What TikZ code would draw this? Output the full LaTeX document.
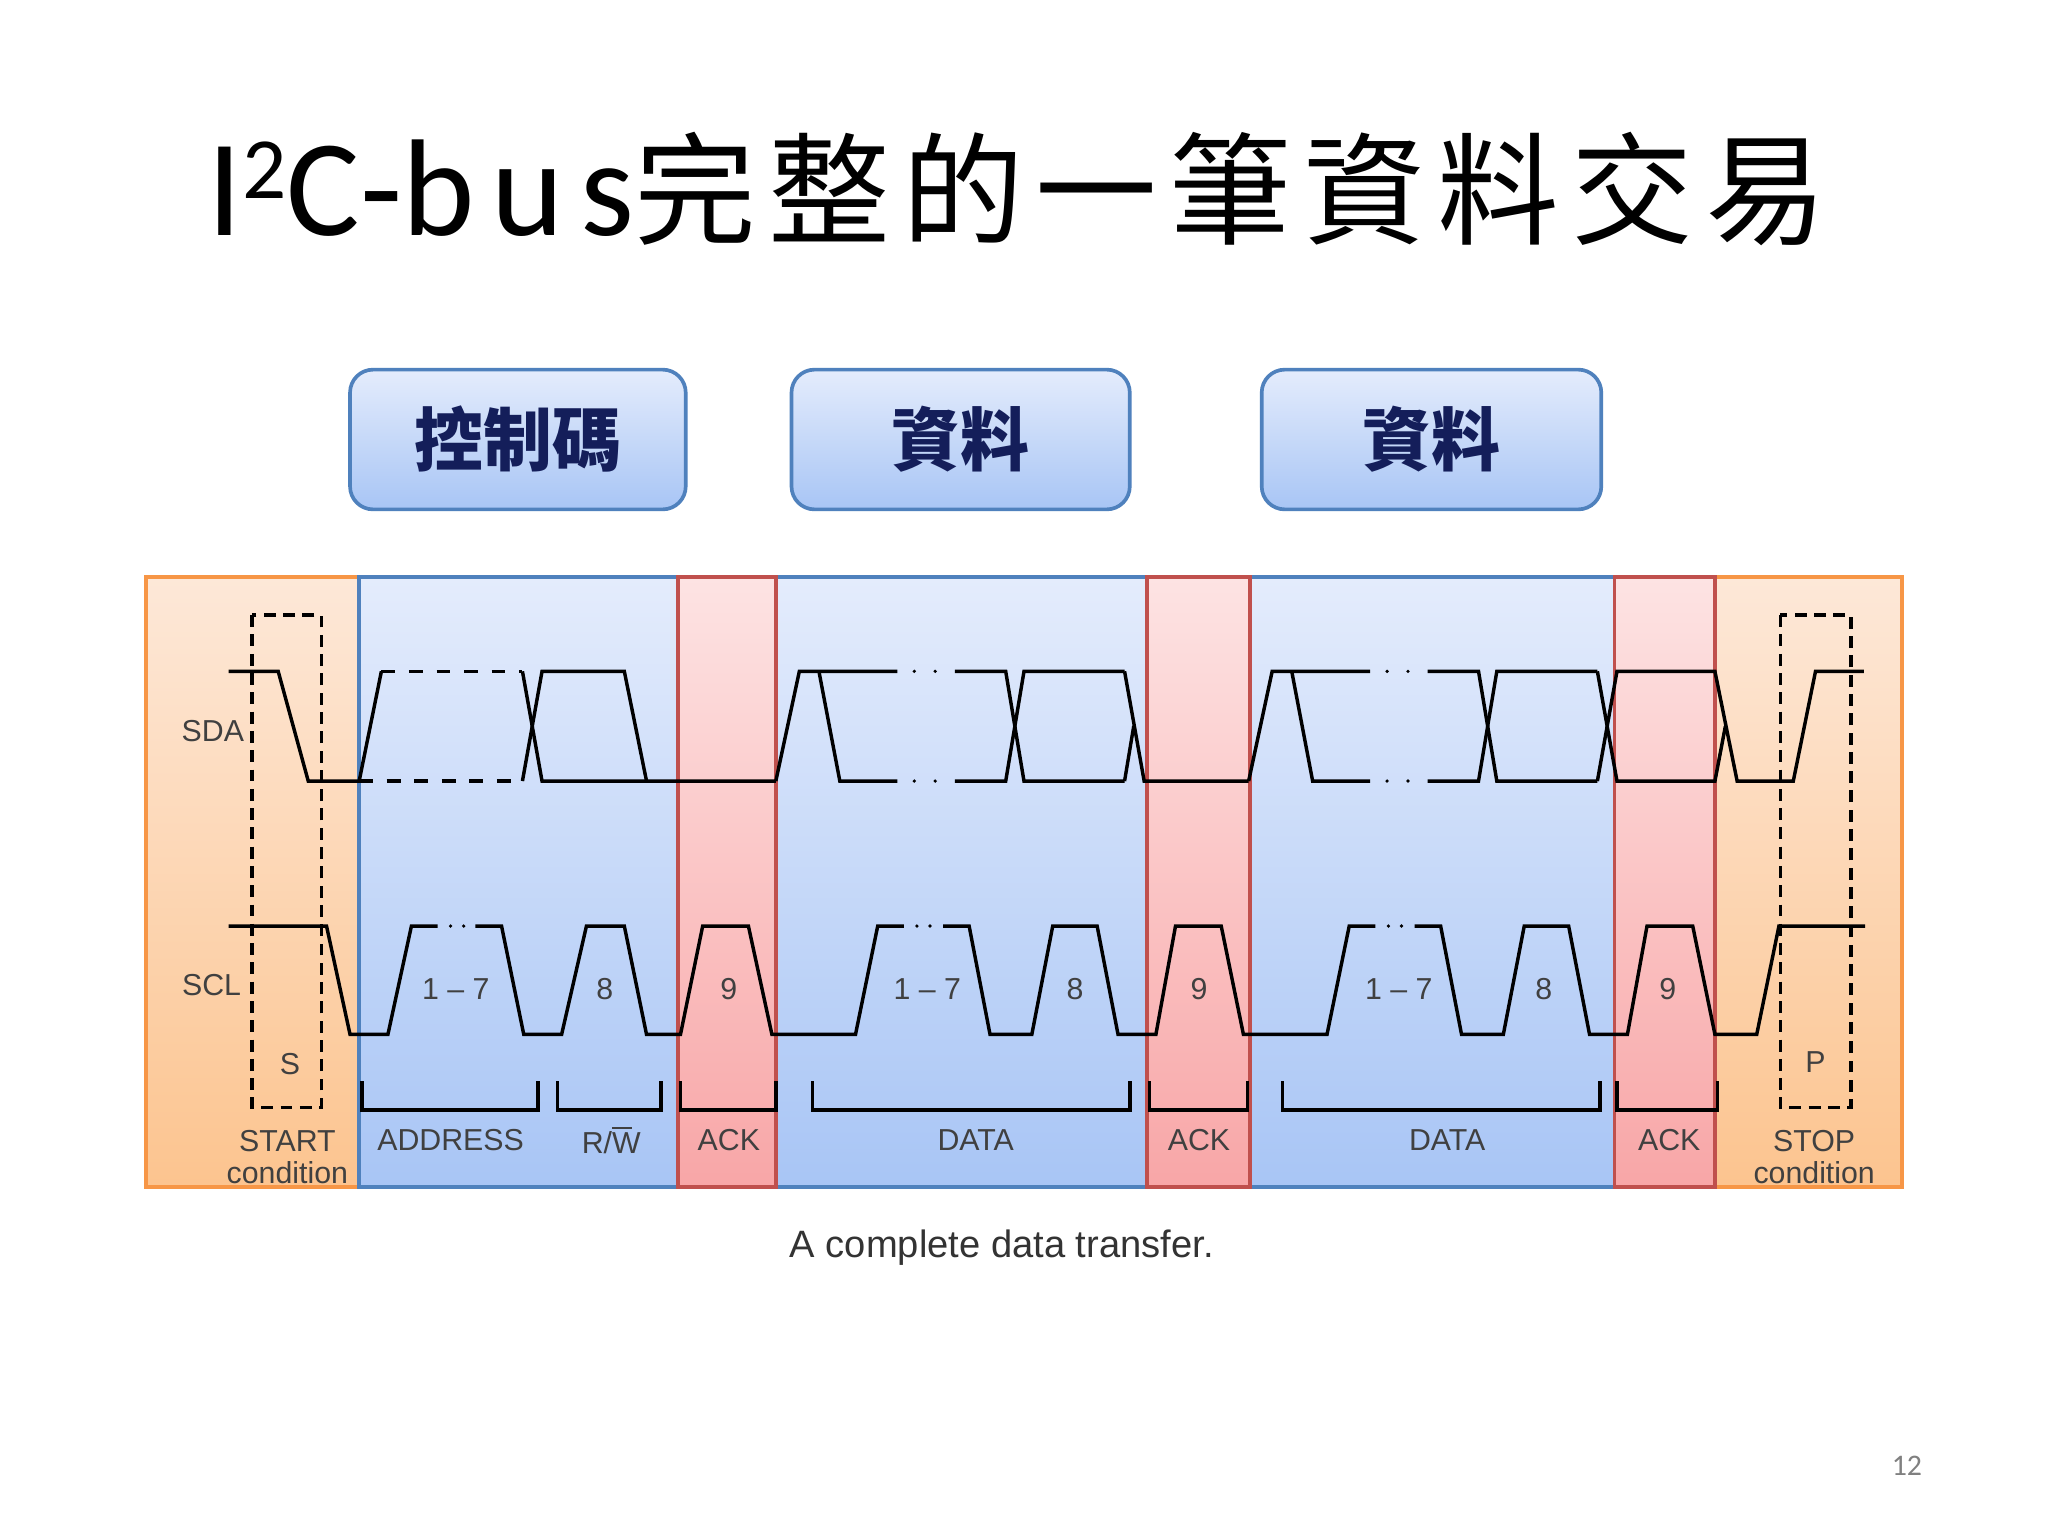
\documentclass[tikz,border=0pt]{standalone}
\usepackage{fontspec}
\setmainfont{Liberation Sans}
\newfontfamily\cjkfont{Noto Sans CJK TC}
\newfontfamily\calfont{Carlito}
\begin{document}
\begin{tikzpicture}[x=0.01cm,y=-0.01cm,
  wave/.style={line width=0.75pt,black,line join=miter},
  dbox/.style={line width=0.75pt,black,dash pattern=on 2.6pt off 1.6pt},
  lbl/.style={font=\fontsize{6.6}{7}\selectfont,text=black!75,inner sep=0pt},
  hbox/.style={draw={rgb,255:red,79;green,129;blue,189},line width=0.8pt,rounded corners=5pt,top color={rgb,255:red,228;green,236;blue,252},bottom color={rgb,255:red,168;green,197;blue,245}},
  htxt/.style={font=\cjkfont\bfseries\fontsize{15}{17}\selectfont,text={rgb,255:red,20;green,30;blue,90}},
]
\useasboundingbox (0,0) rectangle (1568,1176);
\fill[white] (0,0) rectangle (1568,1176);
% title
\node[anchor=base,inner sep=0pt] (title) at (779,180) {\calfont\fontsize{30}{34}\selectfont I\raisebox{0.55ex}{\fontsize{19}{20}\selectfont 2}C-\addfontfeature{LetterSpace=12}bus\cjkfont\fontsize{26.5}{30}\selectfont\addfontfeature{LetterSpace=10}完整的一筆資料交易};
% header boxes
\draw[hbox] (268,283) rectangle (525,390);
\node[htxt] (h1) at (396.5,336) {控制碼};
\draw[hbox] (606,283) rectangle (865,390);
\node[htxt] (h2) at (735.5,336) {資料};
\draw[hbox] (966,283) rectangle (1226,390);
\node[htxt] (h3) at (1096,336) {資料};
% panels
\definecolor{oT}{HTML}{FDE8D8}\definecolor{oB}{HTML}{FCC48F}
\definecolor{bT}{HTML}{E4ECFC}\definecolor{bB}{HTML}{A8C5F5}
\definecolor{rT}{HTML}{FDE3E3}\definecolor{rB}{HTML}{F8A6A7}
\foreach \a/\b/\c/\d in {112/275/oT/oB,1313/1456/oT/oB,275/519/bT/bB,594/878/bT/bB,957/1236/bT/bB,519/594/rT/rB,878/957/rT/rB,1236/1313/rT/rB}
  \shade[top color=\c,bottom color=\d] (\a,442) rectangle (\b,909);
\draw[line width=0.8pt,color={rgb,255:red,247;green,150;blue,70}] (112,442) rectangle (275,909) (1313,442) rectangle (1456,909);
\draw[line width=0.8pt,color={rgb,255:red,79;green,129;blue,189}] (275,442) rectangle (519,909) (594,442) rectangle (878,909) (957,442) rectangle (1236,909);
\draw[line width=0.8pt,color={rgb,255:red,192;green,80;blue,77}] (519,442) rectangle (594,909) (878,442) rectangle (957,909) (1236,442) rectangle (1313,909);
% dashed boxes
\draw[dbox] (193,471) rectangle (246,848);
\draw[dbox] (1363,471) rectangle (1417,848);
% SDA
\draw[wave] (175,514)--(213,514)--(236,598)--(275,598)--(292,514);
\draw[wave,dashed] (292,514)--(400,514) (275,598)--(400,598);
\draw[wave] (400,514)--(415,598)--(594,598);
\draw[wave] (400,598)--(415,514)--(478,514)--(495,598);
\foreach \o in {0,362}{
 \begin{scope}[xshift=\o*0.01cm]
 \draw[wave] (594,598)--(612,514)--(687,514);
 \draw[wave] (627,514)--(643,598)--(687,598);
 \fill (700,514) circle (1.4) (716,514) circle (1.4) (700,598) circle (1.4) (716,598) circle (1.4);
 \draw[wave] (731,514)--(770,514)--(784,598)--(861,598);
 \draw[wave] (731,598)--(770,598)--(784,514)--(861,514);
 \end{scope}}
\draw[wave] (861,598)--(868,556) (861,514)--(876,598)--(956,598);
\draw[wave] (1223,514)--(1238,598)--(1313,598)--(1321,556);
\draw[wave] (1223,598)--(1238,514)--(1313,514)--(1330,598)--(1373,598)--(1390,514)--(1427,514);
% SCL
\draw[wave] (175,709)--(250,709)--(268,792)--(297,792)--(315,709)--(335,709);
\draw[wave] (364,709)--(384,709)--(401,792)--(430,792)--(449,709)--(478,709)--(495,792)--(521,792)--(538,709)--(573,709)--(591,792)--(655,792)--(672,709)--(692,709);
\fill (345,709) circle (1.4) (355,709) circle (1.4);
\draw[wave] (722,709)--(742,709)--(758,792)--(790,792)--(806,709)--(840,709)--(856,792)--(885,792)--(900,709)--(935,709)--(952,792)--(1016,792)--(1033,709)--(1053,709);
\fill (702,709) circle (1.4) (712,709) circle (1.4) (1063,709) circle (1.4) (1073,709) circle (1.4);
\draw[wave] (1083,709)--(1103,709)--(1119,792)--(1151,792)--(1167,709)--(1201,709)--(1217,792)--(1246,792)--(1261,709)--(1296,709)--(1313,792)--(1345,792)--(1362,709)--(1428,709);
% brackets
\foreach \a/\b in {277/412,427/506,521/594,622/865,880/955,982/1225,1238/1315}
  \draw[wave] (\a,828)--(\a,850)--(\b,850)--(\b,828);
% labels
\node[lbl] (sda) at (163,560) {SDA};
\node[lbl] (scl) at (162,754) {SCL};
\node[lbl] (s) at (222,815) {S};
\node[lbl] (p) at (1390,813) {P};
\foreach \x/\t [count=\i] in {349/1 -- 7,463/8,558/9,710/1 -- 7,823/8,918/9,1071/1 -- 7,1182/8,1277/9}
  \node[lbl] (n\i) at (\x,757) {\t};
\node[lbl,align=center] (start) at (220,886) {START\\condition};
\node[lbl] (addr) at (345,873) {ADDRESS};
\node[lbl] (rw) at (468,873) {R/\makebox[0pt][l]{\rule[0.82em]{0.67em}{0.5pt}}W};
\node[lbl] (ack1) at (558,873) {ACK};
\node[lbl] (data1) at (747,873) {DATA};
\node[lbl] (ack2) at (918,873) {ACK};
\node[lbl] (data2) at (1108,873) {DATA};
\node[lbl] (ack3) at (1278,873) {ACK};
\node[lbl,align=center] (stop) at (1389,886) {STOP\\condition};
\node[inner sep=0pt,font=\fontsize{8.3}{9}\selectfont,text=black!80] (cap) at (767,955) {A complete data transfer.};
\node[inner sep=0pt,font=\calfont\fontsize{6.5}{7}\selectfont,text=black!50] (pg) at (1460,1122) {12};
\end{tikzpicture}
\end{document}
